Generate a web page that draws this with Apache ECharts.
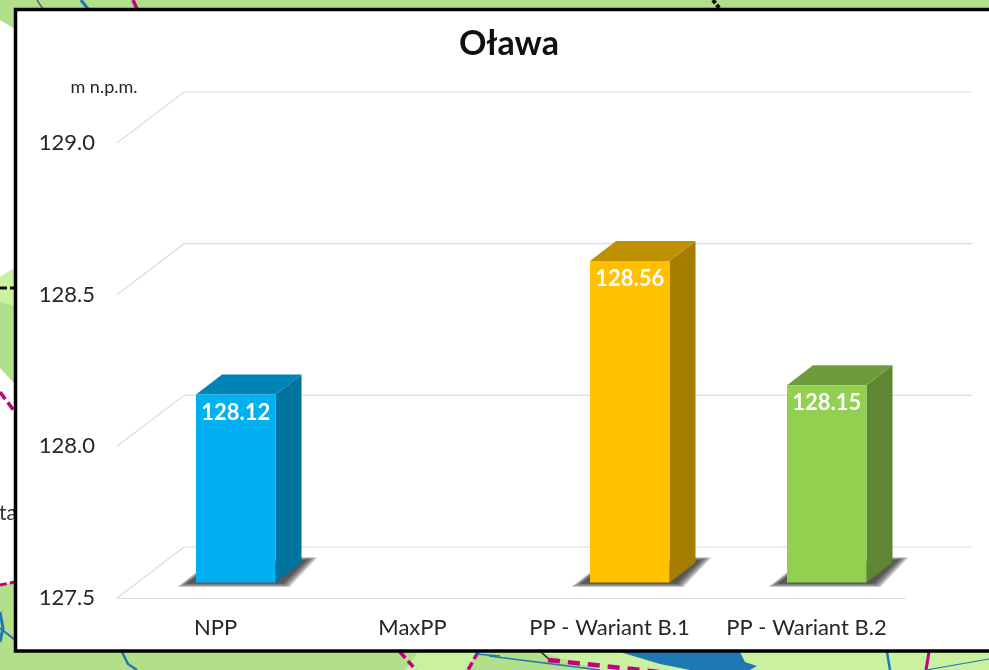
<html>
  <head>
    <meta charset="utf-8">
    <script src="https://cdn.jsdelivr.net/npm/echarts@6/dist/echarts.min.js"></script>
    <title>Oława</title>
  </head>
  <body style="margin:0; background-color:#fff;">
    <div id="chart" style="width:989px; height:670px;"></div>
    <script>
      const categories = ['NPP', 'MaxPP', 'PP - Wariant B.1', 'PP - Wariant B.2'];
      const levels = [128.12, null, 128.56, 128.15];
      const yTicks = [127.5, 128.0, 128.5, 129.0];
      const frontColors = ['#00b0f0', '#00b0f0', '#ffc000', '#92d050'];
      const sideColors = ['#00739e', '#00739e', '#a67d00', '#5f8633'];
      const topColors = ['#0084b5', '#0084b5', '#bf9000', '#6e9c3d'];

      const baseValue = 127.5;
      const fontName = 'Lato, "Open Sans", sans-serif';
      const gridColor = '#dcdcdc';
      // fake 3d: how far the back wall and the bars sit behind the front plane
      const wallDx = 67, wallDy = 51;
      const barDx = 20, barDy = 15.5;
      const sideDx = 26, sideDy = 20;
      const barRatio = 80 / 197;
      const shadowSteps = [7, 5.5, 4, 2.5, 1, 0];

      const renderWall = (params, api) => {
        const y = api.coord([0, api.value(1)])[1];
        const left = params.coordSys.x;
        const width = params.coordSys.width;
        return {
          type: 'polyline',
          shape: { points: [[left, y], [left + wallDx, y - wallDy], [left + wallDx + width, y - wallDy]] },
          style: { stroke: gridColor, lineWidth: 1.2, fill: null },
          silent: true
        };
      };

      const renderBar = (params, api) => {
        const idx = api.value(0);
        const val = levels[idx];
        if (val === null) return null;
        const top = api.coord([idx, val]);
        const base = api.coord([idx, baseValue]);
        const w = api.size([1, 0])[0] * barRatio;
        const x0 = top[0] + barDx - w / 2 + 0.5;
        const x1 = x0 + w - 0.5;
        const yTop = top[1] - barDy;
        const yBase = base[1] - barDy;
        // soft floor shadow, stacked translucent layers
        const shadow = shadowSteps.map(k => ({
          type: 'polygon',
          shape: {
            points: [
              [x0 - 9 - k * 1.4, yBase + 1 + k * 0.5],
              [x0 + 4, yBase - 9 - k * 0.6],
              [x1 + 22, yBase - 22 - k * 0.5],
              [x1 + 32 + k * 1.4, yBase - 23 - k * 0.3],
              [x1 + 7 + k, yBase + 1 + k * 0.5]
            ]
          },
          style: { fill: 'rgba(50,50,50,0.24)' }
        }));
        return {
          type: 'group',
          children: shadow.concat([
            {
              type: 'polygon',
              shape: { points: [[x1, yTop], [x1 + sideDx, yTop - sideDy], [x1 + sideDx, yBase - sideDy], [x1, yBase]] },
              style: { fill: sideColors[idx] }
            },
            {
              type: 'polygon',
              shape: { points: [[x0, yTop], [x0 + sideDx, yTop - sideDy], [x1 + sideDx, yTop - sideDy], [x1, yTop]] },
              style: { fill: topColors[idx] }
            },
            {
              type: 'rect',
              shape: { x: x0, y: yTop, width: x1 - x0, height: yBase - yTop },
              style: { fill: frontColors[idx] }
            },
            {
              type: 'text',
              style: {
                text: val.toFixed(2),
                x: (x0 + x1) / 2,
                y: yTop + 18,
                align: 'center',
                verticalAlign: 'middle',
                fill: '#fff',
                font: 'bold 22px ' + fontName
              }
            }
          ])
        };
      };

      // map left behind the chart box in the source slide
      const poly = (points, fill) => ({ type: 'polygon', z: -20, shape: { points }, style: { fill } });
      const line = (points, stroke, lineWidth, lineDash) => ({
        type: 'polyline', z: -19, shape: { points },
        style: { stroke, lineWidth, lineDash: lineDash || null, fill: null }
      });
      const mapGreen = '#b2df8a', mapLight = '#c9f1a0', mapBlue = '#1f78b4', mapPink = '#c4007f';
      const backdrop = [
        { type: 'rect', z: -21, shape: { x: 0, y: 0, width: 989, height: 670 }, style: { fill: mapGreen } },
        poly([[0, 20], [15, 29], [15, 268], [0, 277]], '#ffffff'),
        poly([[0, 277], [15, 268], [15, 306], [0, 302]], mapLight),
        poly([[0, 368], [15, 384], [15, 582], [0, 586]], '#ffffff'),
        poly([[405, 670], [418, 652], [478, 652], [465, 670]], mapLight),
        poly([[540, 652], [989, 652], [989, 670], [600, 670]], mapLight),
        poly([[620, 652], [740, 652], [745, 662], [757, 666], [750, 670], [690, 670], [660, 664]], mapBlue),
        line([[37, 0], [43, 9]], '#666', 1.5),
        line([[81, 0], [88, 9]], mapBlue, 3),
        line([[133, 0], [137, 9]], mapPink, 3.5),
        line([[713, 0], [720, 9]], '#111', 4, [4, 2]),
        line([[0, 288], [15, 288]], '#111', 3, [7, 3]),
        line([[0, 392], [15, 412]], mapPink, 3.5, [9, 4]),
        line([[0, 585], [15, 582]], mapPink, 3, [7, 3]),
        line([[0, 612], [3, 628], [0, 642]], mapBlue, 3),
        line([[0, 628], [15, 640]], mapBlue, 2),
        line([[122, 652], [128, 664], [137, 670]], mapBlue, 2.5),
        line([[400, 652], [416, 670]], mapPink, 3.5, [8, 4]),
        line([[478, 652], [468, 670]], mapPink, 3.5, [8, 4]),
        line([[475, 654], [500, 656]], mapBlue, 1.5),
        line([[489, 656], [600, 670]], mapBlue, 1.5),
        line([[541, 652], [552, 662]], '#222', 1.5),
        line([[548, 660], [660, 672]], mapPink, 4.5, [12, 8]),
        line([[887, 652], [890, 670]], mapBlue, 2.5),
        line([[929, 652], [926, 670]], mapPink, 3),
        line([[926, 670], [989, 659]], mapBlue, 1.2),
        {
          type: 'text', z: -18, x: -12, y: 503,
          style: { text: 'Sta', font: '21px ' + fontName, fill: '#333' }
        },
        // the white chart box with its black frame
        {
          type: 'rect', z: -10,
          shape: { x: 15.5, y: 9.5, width: 990, height: 641.5 },
          style: { fill: '#fff', stroke: '#000', lineWidth: 3.5 }
        }
      ];

      const chart = echarts.init(document.getElementById('chart'));

      const option = {
        animation: false,
        title: {
          text: 'Oława',
          left: 504,
          top: 22,
          textAlign: 'center',
          textStyle: { fontFamily: fontName, fontSize: 34, fontWeight: 'bold', color: '#111' }
        },
        graphic: { elements: backdrop },
        grid: { left: 117, right: 84, top: 143, bottom: 72 },
        xAxis: {
          type: 'category',
          data: categories,
          axisLine: { lineStyle: { color: gridColor, width: 1.2 } },
          axisTick: { show: false },
          axisLabel: { margin: 19, fontFamily: fontName, fontSize: 22, color: '#262626', interval: 0 }
        },
        yAxis: {
          type: 'value',
          min: 127.5,
          max: 129,
          interval: 0.5,
          name: 'm n.p.m.',
          nameLocation: 'end',
          nameGap: 47,
          nameTextStyle: { fontFamily: fontName, fontSize: 18, color: '#262626', align: 'center', padding: [0, 26, 0, 0] },
          axisLine: { show: false },
          axisTick: { show: false },
          splitLine: { show: false },
          axisLabel: {
            margin: 22,
            fontFamily: fontName,
            fontSize: 22,
            color: '#262626',
            formatter: v => v.toFixed(1)
          }
        },
        series: [
          {
            type: 'custom',
            z: 1,
            renderItem: renderWall,
            data: yTicks.map(v => [0, v]),
            silent: true
          },
          {
            type: 'custom',
            z: 3,
            renderItem: renderBar,
            data: levels.map((v, i) => [i, v === null ? baseValue : v]),
            silent: true
          }
        ]
      };

      chart.setOption(option);
    </script>
  </body>
</html>
